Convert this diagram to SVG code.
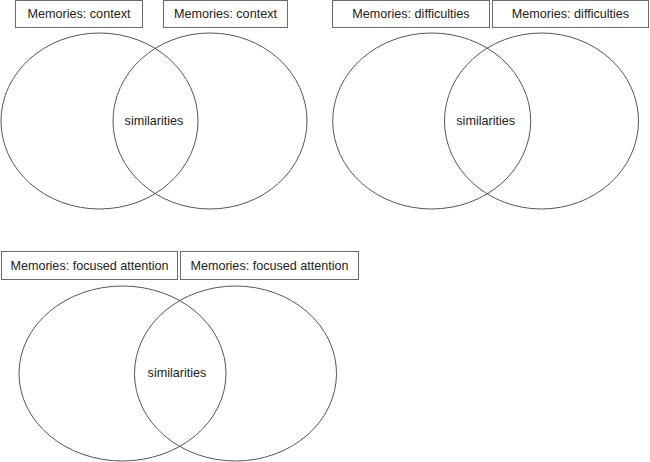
<svg xmlns="http://www.w3.org/2000/svg" width="650" height="462" viewBox="0 0 650 462">
<style>
.box{fill:#fff;stroke:#6b6b6b;stroke-width:1}
.el{fill:none;stroke:#555;stroke-width:1}
text{font-family:"Liberation Sans",Arial,sans-serif;font-size:12.6px;fill:#222;text-anchor:middle}
</style>
<rect width="650" height="462" fill="#fff"/>
<g id="venn-context">
  <g id="ctx-box-1"><rect class="box" x="15.5" y="0.5" width="127" height="27"/><text x="79" y="18">Memories: context</text></g>
  <g id="ctx-box-2"><rect class="box" x="163.5" y="0.5" width="124" height="27"/><text x="225.5" y="18">Memories: context</text></g>
  <g id="ctx-ellipse-1"><ellipse class="el" cx="99.5" cy="121" rx="98.5" ry="88"/></g>
  <g id="ctx-ellipse-2"><ellipse class="el" cx="210" cy="121" rx="97" ry="88"/></g>
  <g id="ctx-sim"><text x="154" y="124.5">similarities</text></g>
</g>
<g id="venn-difficulties">
  <g id="dif-box-1"><rect class="box" x="332.5" y="0.5" width="157" height="27"/><text x="411" y="18">Memories: difficulties</text></g>
  <g id="dif-box-2"><rect class="box" x="492.5" y="0.5" width="156" height="27"/><text x="570.5" y="18">Memories: difficulties</text></g>
  <g id="dif-ellipse-1"><ellipse class="el" cx="431.7" cy="121" rx="99" ry="88"/></g>
  <g id="dif-ellipse-2"><ellipse class="el" cx="541.5" cy="121" rx="97" ry="88"/></g>
  <g id="dif-sim"><text x="485.7" y="124.5">similarities</text></g>
</g>
<g id="venn-attention">
  <g id="att-box-1"><rect class="box" x="1.5" y="251.5" width="176" height="28"/><text x="89.5" y="269.5">Memories: focused attention</text></g>
  <g id="att-box-2"><rect class="box" x="180.5" y="251.5" width="178" height="28"/><text x="269.5" y="269.5">Memories: focused attention</text></g>
  <g id="att-ellipse-1"><ellipse class="el" cx="122.5" cy="373.5" rx="103.5" ry="87.5"/></g>
  <g id="att-ellipse-2"><ellipse class="el" cx="235.5" cy="373.5" rx="101" ry="87.5"/></g>
  <g id="att-sim"><text x="177" y="377">similarities</text></g>
</g>
<g id="connectors"/>
</svg>
